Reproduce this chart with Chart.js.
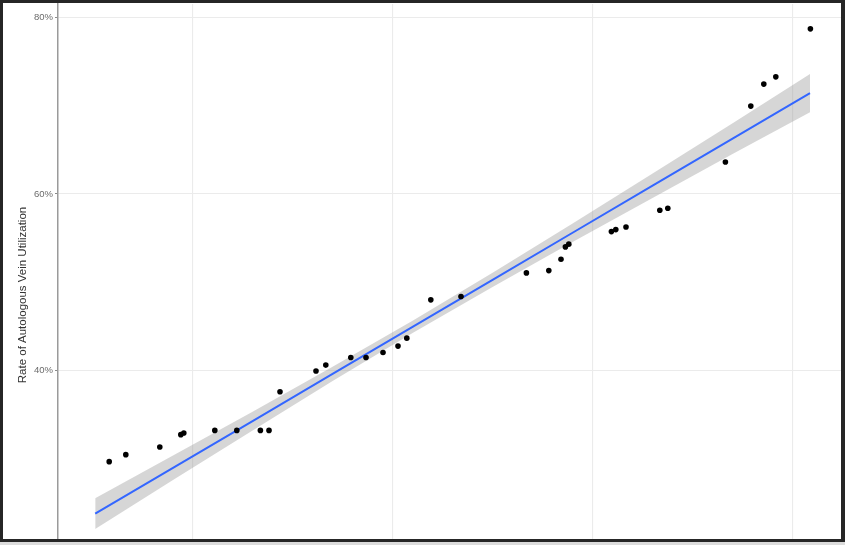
<!DOCTYPE html>
<html>
<head>
<meta charset="utf-8">
<script src="https://cdn.jsdelivr.net/npm/chart.js@4/dist/chart.umd.min.js"></script>
<style>
  html, body { margin: 0; padding: 0; background: #fff; }
  #wrap { position: relative; width: 845px; height: 545px; overflow: hidden; background: #dcdcdc; }
  #inner { position: absolute; left: 0; top: 0; width: 845px; height: 542px; overflow: hidden; background: #fff; }
  #frame { position: absolute; left: 0; top: 0; width: 845px; height: 542px; box-sizing: border-box;
           border-style: solid; border-color: #262626; border-width: 3px 4px 3px 3px; pointer-events: none; }
  canvas { display: block; }
</style>
</head>
<body>
<div id="wrap">
  <div id="inner"><canvas id="c" width="845" height="590"></canvas></div>
  <div id="frame"></div>
</div>
<script>
// Observed points (x: position on the unlabelled horizontal axis, y: utilization %)
const pointX = [5.81, 6.64, 8.34, 9.39, 9.54, 11.09, 12.19, 13.37, 13.80, 14.35,
                16.15, 16.64, 17.89, 18.65, 19.50, 20.25, 20.69, 21.89, 23.40, 26.67,
                27.79, 28.40, 28.62, 28.79, 30.92, 31.14, 31.65, 33.34, 33.74, 36.62,
                37.89, 38.54, 39.14, 40.87];
const pointY = [29.72, 30.51, 31.38, 32.77, 32.96, 33.25, 33.25, 33.25, 33.25, 37.63,
                39.97, 40.64, 41.50, 41.50, 42.07, 42.79, 43.69, 48.02, 48.40, 51.07,
                51.33, 52.62, 54.01, 54.32, 55.74, 55.97, 56.27, 58.16, 58.38, 63.62,
                69.94, 72.43, 73.25, 78.68];

// Fitted line and confidence band
const fitX     = [5.11, 9, 13, 17, 21, 25, 29, 33, 37, 40.85];
const fitY     = [23.84, 29.02, 34.34, 39.67, 44.99, 50.31, 55.64, 60.96, 66.29, 71.41];
const fitLower = [22.09, 27.63, 33.28, 38.86, 44.29, 49.50, 54.58, 59.57, 64.54, 69.24];
const fitUpper = [25.59, 30.41, 35.40, 40.48, 45.69, 51.12, 56.70, 62.35, 68.04, 73.58];

const yTicks = [40, 60, 80];
const xGrid  = [10, 20, 30, 40];

const toXY = (xs, ys) => xs.map((x, i) => ({ x: x, y: ys[i] }));

new Chart(document.getElementById('c'), {
  type: 'scatter',
  data: {
    datasets: [
      { type: 'line', data: toXY(fitX, fitLower), borderWidth: 0, pointRadius: 0,
        backgroundColor: 'rgba(153,153,153,0.4)', fill: false, order: 3 },
      { type: 'line', data: toXY(fitX, fitUpper), borderWidth: 0, pointRadius: 0,
        backgroundColor: 'rgba(153,153,153,0.4)', fill: '-1', order: 2 },
      { type: 'line', data: toXY(fitX, fitY), borderColor: '#3366FF', borderWidth: 2,
        pointRadius: 0, fill: false, order: 1 },
      { type: 'scatter', data: toXY(pointX, pointY), pointRadius: 2.8,
        backgroundColor: '#000', borderColor: '#000', borderWidth: 0, order: 0 }
    ]
  },
  options: {
    responsive: false,
    animation: false,
    events: [],
    layout: { padding: { top: 3, right: 4, bottom: 3, left: 0 } },
    plugins: { legend: { display: false }, tooltip: { enabled: false } },
    scales: {
      x: {
        type: 'linear', min: 3.25, max: 42.4,
        afterBuildTicks: s => { s.ticks = xGrid.map(v => ({ value: v })); },
        afterFit: s => { s.height = 0; s.paddingLeft = 0; s.paddingRight = 0; },
        ticks: { display: false },
        grid: { color: '#ebebeb', lineWidth: 1.1, drawTicks: false },
        border: { display: false }
      },
      y: {
        type: 'linear', min: 15.65, max: 81.49,
        afterBuildTicks: s => { s.ticks = yTicks.map(v => ({ value: v })); },
        afterFit: s => { s.width = 58; s.paddingTop = 0; s.paddingBottom = 0; },
        ticks: {
          callback: v => v + '%',
          color: '#6b6b6b',
          font: { family: 'Liberation Sans, Arial, sans-serif', size: 9.5 },
          padding: 2
        },
        grid: { color: '#ebebeb', lineWidth: 1.1, tickLength: 3, tickColor: '#8a8a8a' },
        border: { display: true, color: '#9a9a9a', width: 1.5 },
        title: {
          display: true,
          text: 'Rate of Autologous Vein Utilization',
          color: '#333',
          font: { family: 'Liberation Sans, Arial, sans-serif', size: 11.5 },
          padding: { top: 16, bottom: 0 }
        }
      }
    }
  }
});
</script>
</body>
</html>
